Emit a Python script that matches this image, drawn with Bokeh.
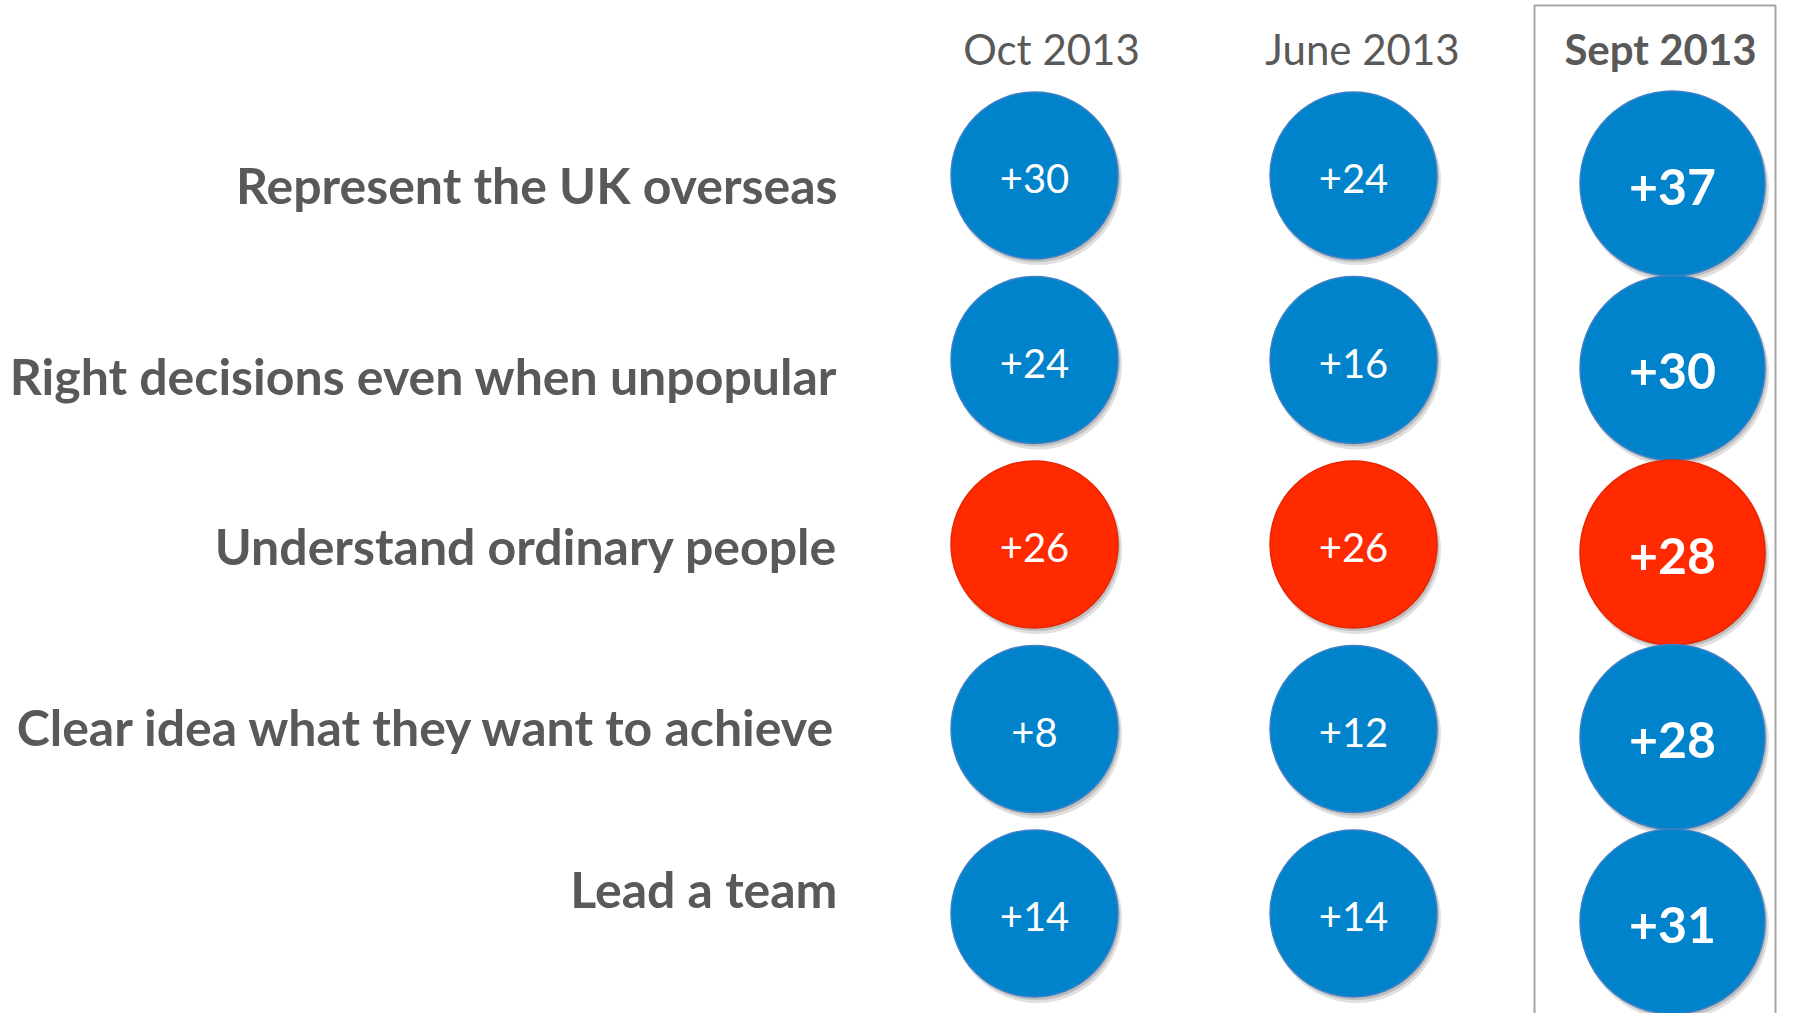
from bokeh.plotting import figure
from bokeh.models import Range1d, ColumnDataSource
from bokeh.embed import file_html
from bokeh.resources import INLINE
from bokeh.core.properties import value

# ---------------- data ----------------
attributes = [
    "Represent the UK overseas",
    "Right decisions even when unpopular",
    "Understand ordinary people",
    "Clear idea what they want to achieve",
    "Lead a team",
]
periods = ["Oct 2013", "June 2013", "Sept 2013"]
oct_2013 = [30, 24, 26, 8, 14]
june_2013 = [24, 16, 26, 12, 14]
sept_2013 = [37, 30, 28, 28, 31]
highlight = "Understand ordinary people"
series = [oct_2013, june_2013, sept_2013]

# ---------------- layout / style ----------------
W, H = 1777, 1013
COL_PX = 319.0      # pixels per column unit
ROW_PX = 184.5      # pixels per row unit
COL0_PX = 1034.0    # plot-x of first column
ROW0_PX = 175.0     # plot-y of first row (from top)

xs = -COL0_PX / COL_PX
xe = xs + W / COL_PX
r_top = -ROW0_PX / ROW_PX
r_bot = r_top + H / ROW_PX


def px_x(px):
    return xs + px / COL_PX


def px_dx(px):
    return px / COL_PX


def px_dy(px):
    return px / ROW_PX


BLUE = "#0083CA"
RED = "#FF2A00"
GREY = "#595959"
col_size = [167, 167, 185]
col_dy = [0, 0, 8]
col_font = ["40px", "40px", "50px"]
col_style = ["normal", "normal", "bold"]
header_dx = [17, 9, -12]
header_style = ["normal", "normal", "bold"]
label_nudge = [3, 10, -5, -8, -31]

p = figure(width=W, height=H, output_backend="svg", toolbar_location=None,
           x_range=Range1d(xs, xe), y_range=Range1d(r_bot, r_top),
           min_border=0, background_fill_color="white", border_fill_color="white")
p.axis.visible = False
p.grid.visible = False
p.outline_line_color = None

# highlight box around latest column
p.quad(left=[px_x(1534)], right=[px_x(W - 2)],
       top=[r_top + px_dy(5)], bottom=[r_bot + px_dy(10)],
       fill_color=None, line_color="#A6A6A6", line_width=2)

for ci, vals in enumerate(series):
    xcol = [ci] * len(vals)
    yrow = [ri + px_dy(col_dy[ci]) for ri in range(len(vals))]
    colors = [RED if a == highlight else BLUE for a in attributes]
    lines = ["#E82600" if a == highlight else "#3D80C6" for a in attributes]
    labels = ["+%d" % v for v in vals]
    src = ColumnDataSource(dict(x=xcol, y=yrow, c=colors, lc=lines, t=labels,
                                sx=[x + px_dx(3) for x in xcol],
                                sy=[y + px_dy(5) for y in yrow],
                                sx2=[x + px_dx(2) for x in xcol],
                                sy2=[y + px_dy(3) for y in yrow],
                                ty=[y + px_dy(3) for y in yrow]))
    # soft shadow
    p.scatter(x="sx", y="sy", size=col_size[ci] + 2, marker="circle", source=src,
              fill_color="#000000", fill_alpha=0.12, line_color=None)
    p.scatter(x="sx2", y="sy2", size=col_size[ci], marker="circle", source=src,
              fill_color="#000000", fill_alpha=0.15, line_color=None)
    p.scatter(x="x", y="y", size=col_size[ci], marker="circle", source=src,
              fill_color="c", line_color="lc", line_width=1.5)
    p.text(x="x", y="ty", text="t", source=src, text_color="white",
           text_font=value("Lato"), text_font_size=value(col_font[ci]),
           text_font_style=col_style[ci], text_align="center", text_baseline="middle")

# column headers
for ci, period in enumerate(periods):
    p.text(x=[ci + px_dx(header_dx[ci])], y=[px_dy(48 - ROW0_PX)], text=[period],
           text_color=GREY, text_font=value("Lato"), text_font_size=value("42px"),
           text_font_style=header_style[ci], text_align="center", text_baseline="middle")

# row labels
p.text(x=[px_x(837)] * len(attributes),
       y=[ri + px_dy(6 + label_nudge[ri]) for ri in range(len(attributes))],
       text=attributes, text_color=GREY, text_font=value("Lato"),
       text_font_size=value("50px"), text_font_style="bold",
       text_align="right", text_baseline="middle")

open("out.html", "w").write(file_html(p, INLINE))
